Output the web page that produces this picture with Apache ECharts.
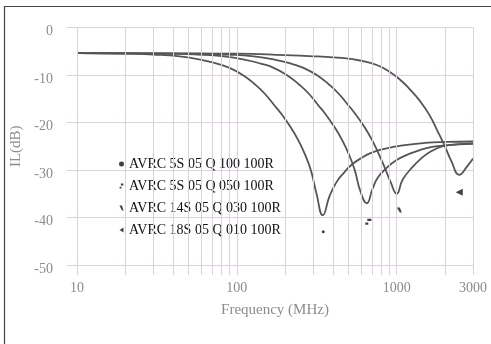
<!DOCTYPE html>
<html>
<head>
<meta charset="utf-8">
<script src="https://cdn.jsdelivr.net/npm/echarts@6/dist/echarts.min.js"></script>
<style>html,body{margin:0;padding:0;background:#fff}#c{width:491px;height:344px}</style>
</head>
<body>
<div id="c"></div>
<script>
// ---- data ----
const seriesNames = ['AVRC 5S 05 Q 100 100R', 'AVRC 5S 05 Q 050 100R', 'AVRC 14S 05 Q 030 100R', 'AVRC 18S 05 Q 010 100R'];

const c1Freq = [10, 20, 30, 44, 60, 75, 90, 110, 130, 150, 170, 190, 215, 240, 265, 290, 315, 345, 380, 421, 470, 522, 600, 680, 850, 1094, 1500, 2050, 3000];
const c1IL   = [-5.4, -5.5, -5.7, -6.1, -6.8, -7.6, -8.5, -10.1, -12, -14, -16.2, -18.2, -20.8, -23.5, -26.5, -30, -35, -39.5, -35.5, -32.5, -30.5, -28.9, -27.5, -26.5, -25.5, -24.8, -24.3, -24.1, -24.0];

const c2Freq = [10, 38, 57, 83, 113, 141, 170, 207, 245, 283, 320, 358, 405, 452, 499, 546, 593, 650, 705, 762, 850, 998, 1200, 1396, 1700, 2050, 3000];
const c2IL   = [-5.4, -5.5, -5.7, -6.1, -6.8, -7.6, -8.5, -10.1, -12, -14, -16.2, -18.2, -20.8, -23.5, -26.5, -30, -34.5, -37, -34, -31.6, -29.8, -27.9, -26.6, -25.8, -25.1, -24.8, -24.4];

const c3Freq = [10, 58, 87, 128, 174, 218, 261, 319, 377, 435, 493, 551, 624, 696, 769, 841, 915, 1000, 1090, 1262, 1430, 1614, 1946, 2400, 3000];
const c3IL   = [-5.4, -5.5, -5.7, -6.1, -6.8, -7.6, -8.5, -10.1, -12, -14, -16.2, -18.2, -20.8, -23.5, -26.5, -29.5, -32.5, -35, -32, -29.3, -27.5, -26.2, -25, -24.6, -24.5];

const c4Freq = [10, 100, 200, 320, 450, 600, 750, 900, 1050, 1200, 1400, 1600, 1800, 2000, 2200, 2460, 2750, 3000];
const c4IL   = [-5.4, -5.5, -5.8, -6.1, -6.4, -7, -7.9, -9.3, -11, -12.9, -15.5, -18.4, -21.8, -25, -28.2, -31, -29.3, -27.6];

const markerFreq = [347, 664, 1038, 2460];
const markerIL   = [-43, -40.9, -38.4, -34.7];
const markerSymbols = ['circle', 'path://M2,0L6,0L6,3L2,3Z M0,5L3,5L3,8L0,8Z', 'path://M0,0L3,0L5,6L3,6Z', 'path://M0,5L8,0L8,10Z'];
const markerSizes = [3, 6, 5, 7];

const gridFreqs = [10, 20, 30, 40, 50, 60, 70, 80, 90, 100, 200, 300, 400, 500, 600, 700, 800, 900, 1000, 2000, 3000];

// ---- chart ----
const serif = "'Liberation Serif','Times New Roman',serif";
const gridColor = '#ddd1de';
const labelColor = '#8c8c8c';
const pairs = (f, v) => f.map((x, i) => [x, v[i]]);
const curves = [[c1Freq, c1IL], [c2Freq, c2IL], [c3Freq, c3IL], [c4Freq, c4IL]];

const chart = echarts.init(document.getElementById('c'), null, {renderer: 'canvas'});
const series = [];
series.push({
  type: 'line', xAxisIndex: 1, yAxisIndex: 1, data: [[10, 0.5]], symbol: 'none',
  lineStyle: {opacity: 0}, silent: true, z: 1,
  markLine: {
    silent: true, symbol: ['none', 'none'], label: {show: false}, animation: false,
    lineStyle: {color: gridColor, type: 'solid', width: 1},
    data: gridFreqs.map(f => ({xAxis: f}))
  }
});
curves.forEach((c) => {
  series.push({
    type: 'line', data: pairs(c[0], c[1]), symbol: 'none', smooth: 0.5,
    lineStyle: {color: '#555', width: 1.8}, z: 3, silent: true
  });
});
seriesNames.forEach((n, i) => {
  series.push({
    type: 'scatter', name: n, data: [[markerFreq[i], markerIL[i]]],
    symbol: markerSymbols[i], symbolSize: markerSizes[i],
    itemStyle: {color: '#111'}, z: 4
  });
});

chart.setOption({
  animation: false,
  backgroundColor: '#fff',
  grid: [
    {left: 77, right: 18, top: 27.5, bottom: 79, containLabel: false},
    {left: 77, right: 18, top: 27.5, bottom: 69, containLabel: false}
  ],
  xAxis: [
    {
      type: 'log', logBase: 10, min: 10, max: 3000, gridIndex: 0,
      axisLine: {show: false}, axisTick: {show: false}, splitLine: {show: false}, minorTick: {show: false},
      axisLabel: {margin: 16, color: labelColor, fontFamily: serif, fontSize: 14,
        formatter: v => String(Math.round(v))},
      name: 'Frequency (MHz)', nameLocation: 'middle', nameGap: 38,
      nameTextStyle: {color: labelColor, fontFamily: serif, fontSize: 15}
    },
    {type: 'log', logBase: 10, min: 10, max: 3000, gridIndex: 1, show: false}
  ],
  yAxis: [
    {
      type: 'value', min: -50, max: 0, interval: 10, gridIndex: 0,
      axisLine: {show: false},
      axisTick: {show: true, length: 10, lineStyle: {color: gridColor}},
      splitLine: {show: true, lineStyle: {color: gridColor, width: 1}},
      axisLabel: {margin: 24, color: labelColor, fontFamily: serif, fontSize: 14, verticalAlign: 'top', lineHeight: 8},
      name: 'IL(dB)', nameLocation: 'middle', nameGap: 45, nameRotate: 90,
      nameTextStyle: {color: labelColor, fontFamily: serif, fontSize: 15}
    },
    {type: 'value', min: 0, max: 1, gridIndex: 1, show: false}
  ],
  legend: {
    show: true, orient: 'vertical', left: 114, top: 152, itemGap: 8,
    itemWidth: 5, itemHeight: 5,
    data: seriesNames,
    textStyle: {color: '#111', fontFamily: serif, fontSize: 14, lineHeight: 14},
    selectedMode: false
  },
  graphic: [{
    type: 'rect', shape: {x: 4.5, y: 6.5, width: 520, height: 400},
    style: {fill: 'none', stroke: '#444', lineWidth: 1.2}, silent: true, z: 10
  }],
  series: series
});
</script>
</body>
</html>
